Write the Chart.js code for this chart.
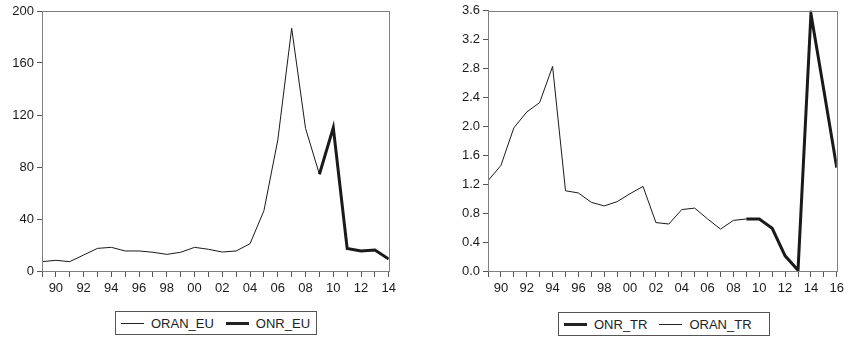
<!DOCTYPE html>
<html>
<head>
<meta charset="utf-8">
<script src="https://cdn.jsdelivr.net/npm/chart.js@4/dist/chart.umd.min.js"></script>
<style>
  html, body { margin: 0; padding: 0; background: #fff; }
  body { width: 848px; height: 339px; position: relative; overflow: hidden; font-family: "Liberation Sans", Arial, sans-serif; }
  .wrap { position: absolute; top: 0; height: 300px; }
  .legend {
    position: absolute; height: 24px; border: 1px solid #555; box-sizing: border-box;
    display: flex; align-items: center; font-size: 13px; color: #222; padding-left: 5px;
  }
  .legend .item { display: flex; align-items: center; margin-right: 12px; }
  .legend .item:last-child { margin-right: 0; }
  .legend .swatch { width: 23px; margin-right: 7px; background: #222; }
</style>
</head>
<body>
<div class="wrap" style="left:0;width:400px"><canvas id="chartEU"></canvas></div>
<div class="wrap" style="left:420px;width:428px"><canvas id="chartTR"></canvas></div>
<div class="legend" id="legendEU" style="left:115px;top:311px;width:202px"></div>
<div class="legend" id="legendTR" style="left:558px;top:312px;width:212px"></div>

<script>
// EU panel, 1989-2014
const yearsEU = [1989, 1990, 1991, 1992, 1993, 1994, 1995, 1996, 1997, 1998, 1999, 2000, 2001,
                 2002, 2003, 2004, 2005, 2006, 2007, 2008, 2009, 2010, 2011, 2012, 2013, 2014];
const oranEU = [7.2, 8.2, 7.2, 12.3, 17.4, 18.2, 15.4, 15.4, 14.4, 12.8, 14.4, 18.2, 16.7,
                14.6, 15.4, 21, 46.4, 100.8, 186.7, 109.7, 74.4, null, null, null, null, null];
const onrEU = [null, null, null, null, null, null, null, null, null, null, null, null, null,
               null, null, null, null, null, null, null, 74.4, 110.3, 17.4, 15.4, 16.2, 9.2];
const ticksEU = [0, 40, 80, 120, 160, 200];

// TR panel, 1989-2016
const yearsTR = [1989, 1990, 1991, 1992, 1993, 1994, 1995, 1996, 1997, 1998, 1999, 2000, 2001, 2002,
                 2003, 2004, 2005, 2006, 2007, 2008, 2009, 2010, 2011, 2012, 2013, 2014, 2015, 2016];
const oranTR = [1.25, 1.46, 1.98, 2.20, 2.33, 2.83, 1.11, 1.08, 0.95, 0.90, 0.96, 1.07, 1.17, 0.67,
                0.65, 0.85, 0.87, 0.72, 0.58, 0.70, 0.72, null, null, null, null, null, null, null];
const onrTR = [null, null, null, null, null, null, null, null, null, null, null, null, null, null,
               null, null, null, null, null, null, 0.72, 0.72, 0.59, 0.21, 0.01, 3.56, 2.5, 1.43];
const ticksTR = [0, 0.4, 0.8, 1.2, 1.6, 2.0, 2.4, 2.8, 3.2, 3.6];

const INK = '#1a1a1a';
const FRAME = '#808080';

function pts(xs, ys) {
    return xs.map((x, i) => ({ x: x, y: ys[i] }));
}

// draws the box round the plot area
const frame = {
    id: 'frame',
    afterDraw(chart) {
        const a = chart.chartArea, c = chart.ctx;
        c.save();
        c.strokeStyle = FRAME;
        c.lineWidth = 1;
        c.strokeRect(Math.round(a.left) + 0.5, Math.round(a.top) + 0.5,
                     Math.round(a.right - a.left), Math.round(a.bottom - a.top));
        c.restore();
    }
};

function makeChart(id, w, years, series, yTicks, yFmt, axisW, pad) {
    const ctx = document.getElementById(id);
    ctx.width = w; ctx.height = 300;
    return new Chart(ctx, {
        type: 'line',
        data: {
            datasets: series.map(s => ({
                label: s.label,
                data: pts(years, s.data),
                borderColor: INK,
                borderWidth: s.width,
                pointRadius: 0,
                tension: 0,
                spanGaps: false,
                order: s.width > 2 ? 0 : 1
            }))
        },
        options: {
            responsive: false,
            animation: false,
            devicePixelRatio: 1,
            layout: { padding: pad },
            plugins: { legend: { display: false }, tooltip: { enabled: false } },
            scales: {
                x: {
                    type: 'linear',
                    min: years[0],
                    max: years[years.length - 1],
                    afterBuildTicks: s => { s.ticks = years.map(v => ({ value: v })); },
                    afterFit: s => { s.height = 29; },
                    ticks: {
                        autoSkip: false, maxRotation: 0, padding: 4,
                        color: INK, font: { family: 'Liberation Sans', size: 13 },
                        callback: v => (v % 2 === 0 ? String(v).slice(2) : '')
                    },
                    grid: { display: true, drawOnChartArea: false, drawTicks: true, tickLength: 6, color: '#555' },
                    border: { color: FRAME }
                },
                y: {
                    min: yTicks[0],
                    max: yTicks[yTicks.length - 1],
                    afterBuildTicks: s => { s.ticks = yTicks.map(v => ({ value: v })); },
                    afterFit: s => { s.width = axisW; },
                    ticks: {
                        padding: 3, color: INK, font: { family: 'Liberation Sans', size: 13 },
                        callback: yFmt
                    },
                    grid: { display: true, drawOnChartArea: false, drawTicks: true, tickLength: 5, color: '#555' },
                    border: { color: FRAME }
                }
            }
        },
        plugins: [frame]
    });
}

const seriesEU = [
    { label: 'ORAN_EU', data: oranEU, width: 1 },
    { label: 'ONR_EU', data: onrEU, width: 3 }
];
const seriesTR = [
    { label: 'ONR_TR', data: onrTR, width: 3 },
    { label: 'ORAN_TR', data: oranTR, width: 1 }
];

makeChart('chartEU', 400, yearsEU, seriesEU, ticksEU, v => String(v), 42, { top: 11, right: 11, left: 0, bottom: 0 });
makeChart('chartTR', 428, yearsTR, seriesTR, ticksTR, v => v.toFixed(1), 68, { top: 9, right: 9, left: 0, bottom: 0 });

function buildLegend(id, series) {
    const box = document.getElementById(id);
    series.forEach(s => {
        const item = document.createElement('div');
        item.className = 'item';
        const sw = document.createElement('span');
        sw.className = 'swatch';
        sw.style.height = s.width + 'px';
        const txt = document.createElement('span');
        txt.textContent = s.label;
        item.appendChild(sw);
        item.appendChild(txt);
        box.appendChild(item);
    });
}
buildLegend('legendEU', seriesEU);
buildLegend('legendTR', seriesTR);
</script>
</body>
</html>
